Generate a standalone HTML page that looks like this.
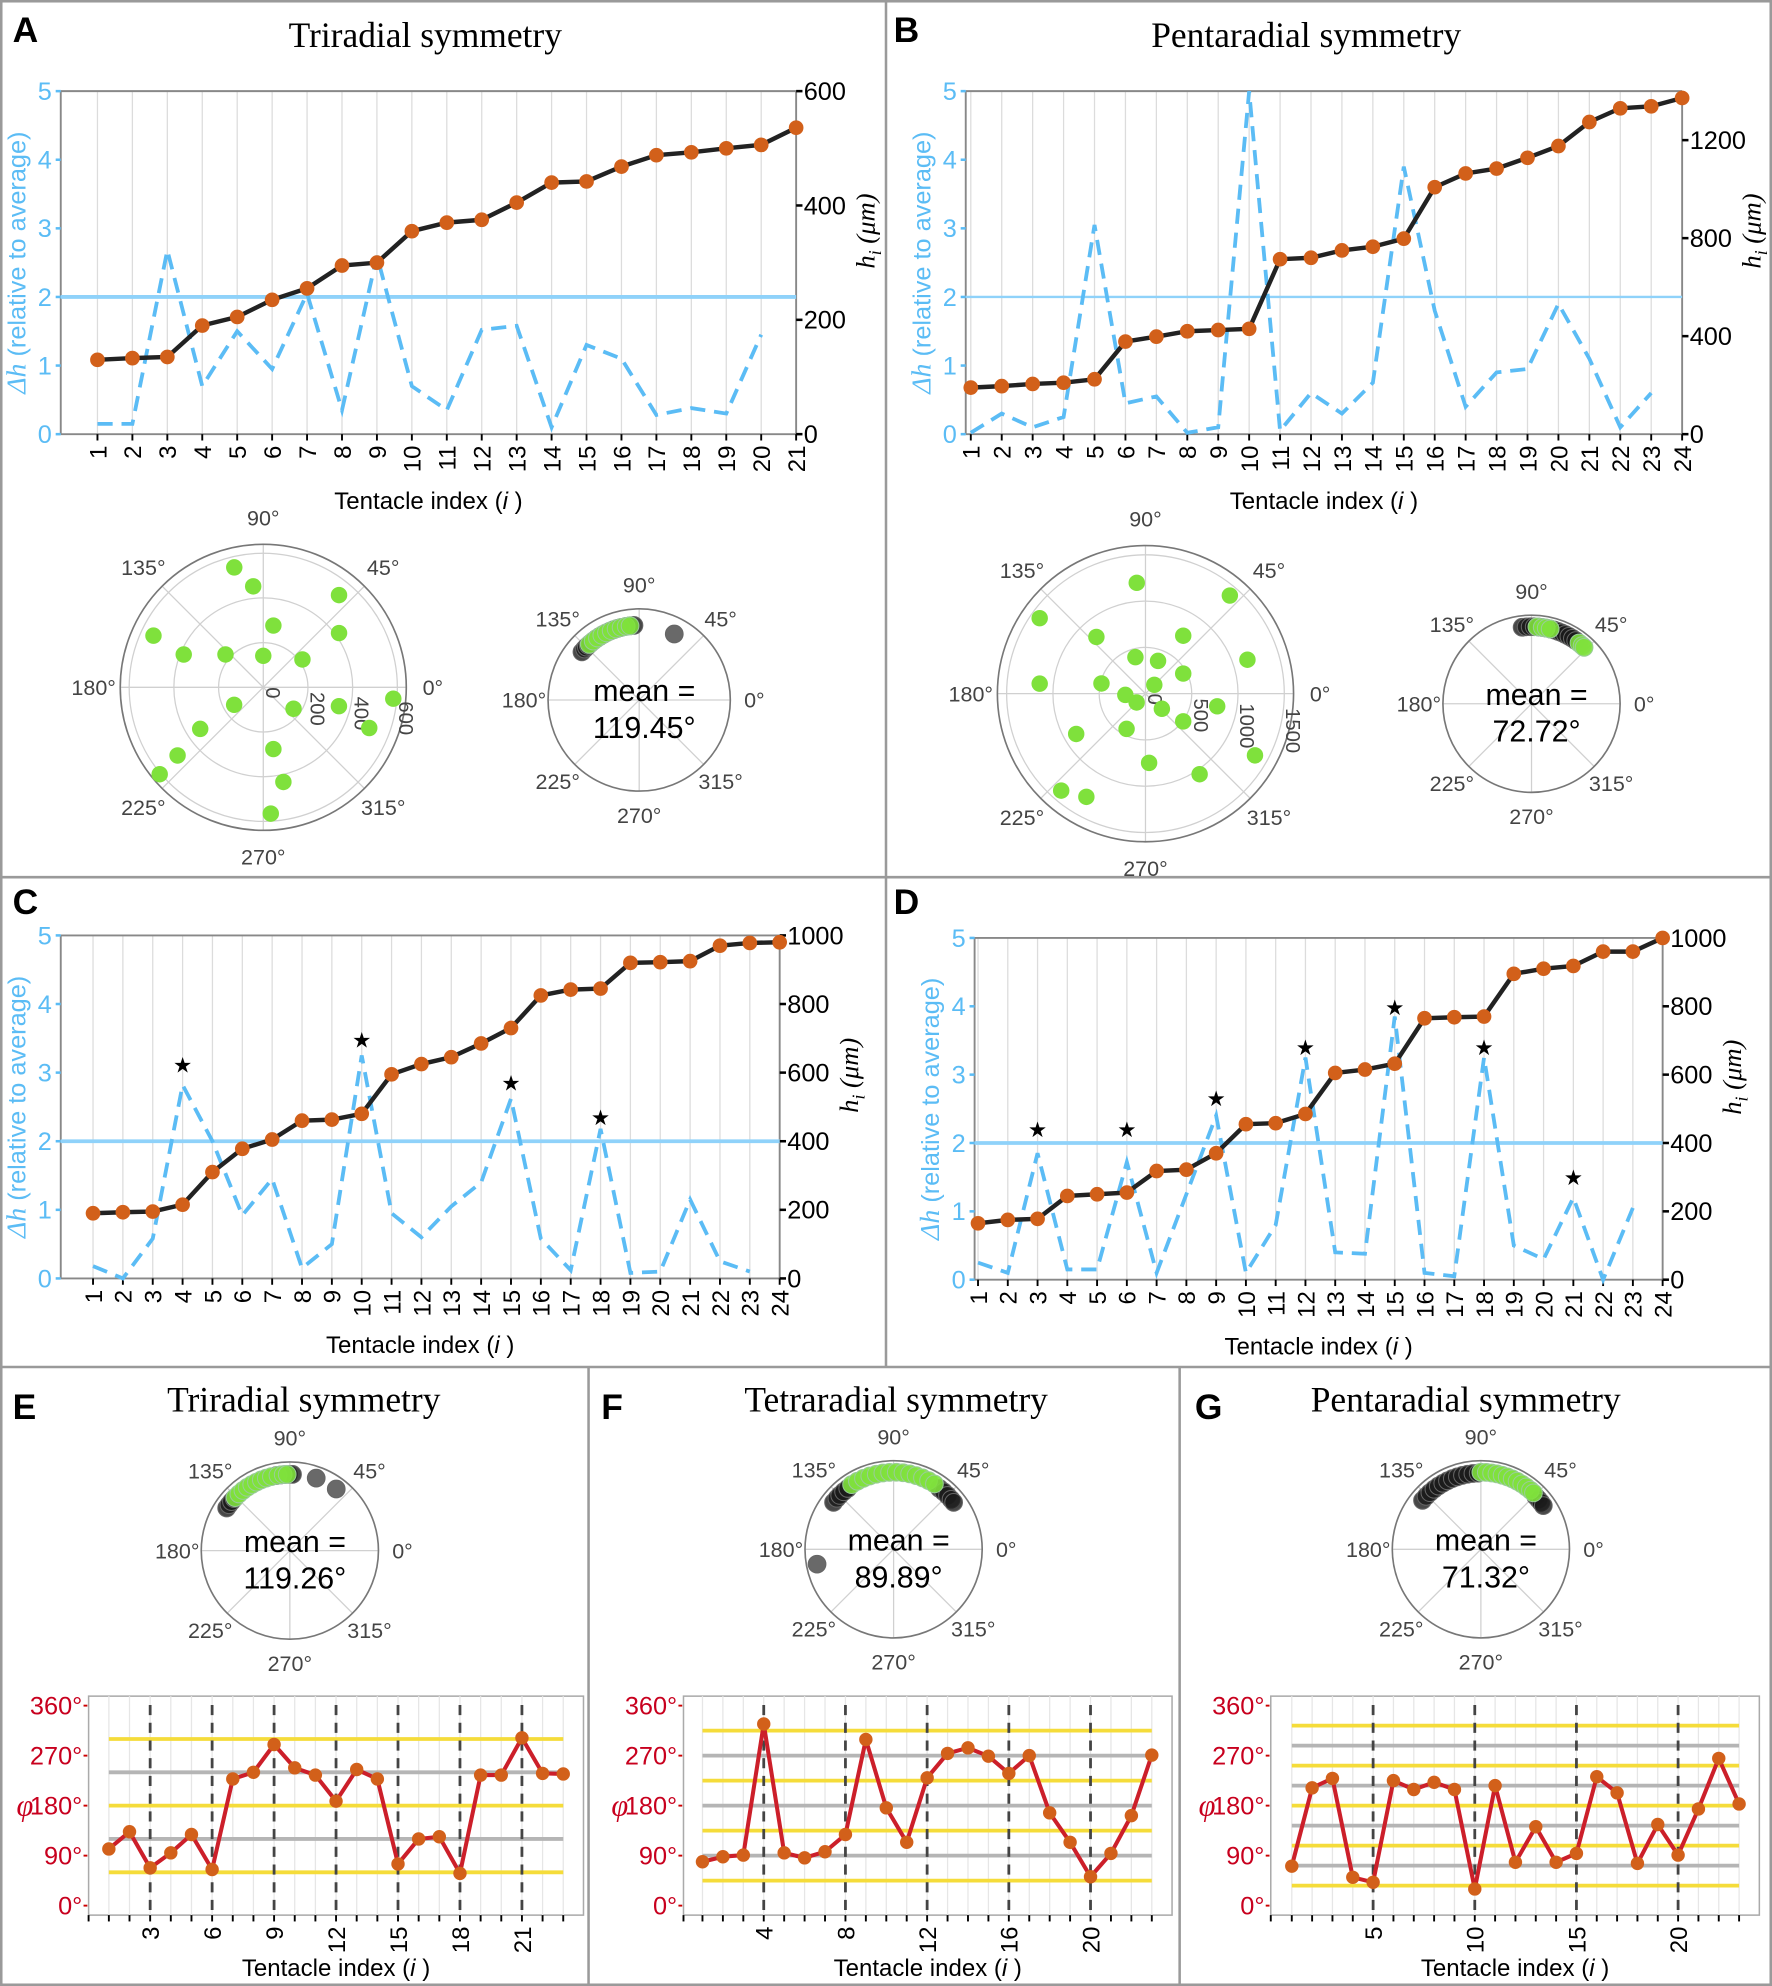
<!DOCTYPE html>
<html><head><meta charset="utf-8"><style>
html,body{margin:0;padding:0;background:#fff}
svg{display:block}
</style></head><body>
<svg id="fig" width="1772" height="1986" viewBox="0 0 1400 1569" preserveAspectRatio="none" xmlns="http://www.w3.org/2000/svg" font-family="Liberation Sans, DejaVu Sans, sans-serif">
<rect x="0" y="0" width="1400" height="1569" fill="#fff"/>
<g stroke="#9a9a9a" stroke-width="2" fill="none">
<rect x="1" y="1" width="1398" height="1567"/>
<line x1="700" y1="0" x2="700" y2="1080"/>
<line x1="0" y1="693" x2="1400" y2="693"/>
<line x1="0" y1="1080" x2="1400" y2="1080"/>
<line x1="465" y1="1080" x2="465" y2="1569"/>
<line x1="932" y1="1080" x2="932" y2="1569"/>
</g>
<g id="layer"></g>
</svg>
<script>
// ---------- DATA ----------
const hA=[130,133,135,190,205,235,255,295,300,355,370,375,405,440,442,468,488,493,500,506,536];
const dA=[0.15,0.15,2.68,0.7,1.5,0.95,2.05,0.35,2.6,0.7,0.35,1.52,1.58,0.1,1.3,1.1,0.28,0.38,0.3,1.45];
const hB=[190,196,205,210,224,378,398,420,425,430,714,720,750,765,798,1008,1064,1084,1128,1176,1274,1330,1338,1372];
const dB=[0.02,0.3,0.1,0.25,3.05,0.45,0.55,0.02,0.1,5.0,0.05,0.6,0.3,0.75,3.9,1.8,0.4,0.9,0.95,1.9,1.1,0.1,0.6];
const hC=[190,193,195,215,310,378,405,460,463,480,595,625,645,685,730,825,842,845,920,922,925,970,978,980];
const dC=[0.18,0.0,0.58,2.82,2.0,0.92,1.45,0.15,0.5,3.25,0.95,0.6,1.05,1.4,2.62,0.58,0.12,2.18,0.08,0.1,1.15,0.25,0.1];
const starIdxC=[4,10,15,18];
const starValC=[3.11,3.48,2.85,2.35];
const hD=[165,175,178,245,250,255,318,322,370,455,458,485,605,615,632,765,768,770,895,910,918,960,960,1000];
const dD=[0.25,0.1,1.85,0.15,0.15,1.72,0.1,1.25,2.4,0.1,0.8,3.25,0.4,0.38,3.85,0.1,0.05,3.25,0.5,0.3,1.2,0.0,1.05];
const starIdxD=[3,6,9,12,15,18,21];
const starValD=[2.2,2.2,2.65,3.4,3.98,3.4,1.5];
const ticksRA=[0,200,400,600];
const ticksRB=[0,400,800,1200];
const ticksRCD=[0,200,400,600,800,1000];
const ticksL=[0,1,2,3,4,5];
const polAang=[103.6,95.7,50.6,154.8,35.6,157.6,80.7,139,90,35.4,211,324.7,346,355,339,213.4,218.5,220,279.3,282,273.4];
const polArad=[552,454,534,543,417,385,280,224,141,215,152,166,349,584,508,338,490,605,280,433,566];
const polBang=[94.5,49.3,144.5,130.9,56.9,18.4,105.4,69,28,174.6,167,45,183.6,225,317.3,350,323.7,241.8,210.2,273,303.9,330.6,229,240.2];
const polBrad=[1201,1398,1404,810,747,1161,409,379,462,1148,488,135,218,135,241,787,506,432,866,749,1049,1358,1388,1285];
const spA_black=[140,137,135,133,131,128,125,122,119,116,113,110,107,104,100,97,94];
const spA_dark=[62];
const spA_green=[132,128,124,120,116,112,108,104,100,97];
const spB_black=[97,94,91,88,85,82,79,76,73,70,67,64,61,58,55];
const spB_green=[86,82,79,76,52,49,47];
const spE_black=[146,143,140,137,100,97,94,91,88];
const spE_dark=[70,53];
const spE_green=[136,132,128,124,120,116,112,108,104,99,95,92];
const spF_black=[142,138,135,131,127,53,49,45,41,38];
const spF_dark=[191];
const spF_green=[123,118,113,108,103,98,93,88,83,78,73,68,63,58];
const spG_black=[140,136,132,128,124,120,116,112,108,104,100,96,92,44,41,38,35];
const spG_green=[90,86,82,78,74,70,66,62,58,54,50,47];
const phiE=[102,133,68,95,128,65,228,240,290,248,235,188,245,228,75,120,124,58,235,235,302,238,237];
const phiF=[79,88,91,327,95,86,97,128,299,176,114,230,274,284,269,238,270,167,114,52,94,162,271];
const phiG=[71,212,229,51,42,225,209,222,209,30,216,78,142,78,94,232,203,76,146,91,174,265,183];
const yellowE=[60,180,300], grayE=[120,240];
const yellowF=[45,135,225,315], grayF=[90,180,270];
const yellowG=[36,108,180,252,324], grayG=[72,144,216,288];
const phiTicks=[0,90,180,270,360];

// ---------- HELPERS ----------
const NS="http://www.w3.org/2000/svg";
const SERIF='"Liberation Serif", "DejaVu Serif", serif';
const layer=document.getElementById('layer');
function mk(tag,attrs,parent,txt){const e=document.createElementNS(NS,tag);for(const k in attrs)e.setAttribute(k,attrs[k]);if(txt!==undefined)e.textContent=txt;(parent||layer).appendChild(e);return e;}
function grp(parent){return mk('g',{},parent);}
function text(x,y,s,size,opt,parent){opt=opt||{};
 const t=mk('text',{x:x,y:y,'font-size':size,fill:opt.fill||'#000','text-anchor':opt.anchor||'start'},parent,s);
 if(opt.family)t.style.fontFamily=opt.family;
 if(opt.weight)t.setAttribute('font-weight',opt.weight);
 if(opt.italic)t.setAttribute('font-style','italic');
 if(opt.rot!==undefined)t.setAttribute('transform','rotate('+opt.rot+' '+x+' '+y+')');
 return t;}

// ---------- DUAL AXIS PANELS ----------
function dualPanel(cfg){
 const g=grp();
 
 
 const n=cfg.h.length;
 const X=i=>cfg.xFirst+(i-1)*(cfg.x1-cfg.xFirst)/(n-1);
 const YL=v=>cfg.y1-(v/5)*(cfg.y1-cfg.y0);
 const YR=v=>cfg.y1-(v/cfg.hMax)*(cfg.y1-cfg.y0);
 for(let i=1;i<=n;i++){const l=mk('line',{x1:X(i),x2:X(i),y1:cfg.y0,y2:cfg.y1,stroke:'#dcdcdc','stroke-width':1},g);
  }
 mk('line',{x1:cfg.x0,x2:cfg.x1,y1:cfg.y0,y2:cfg.y0,stroke:'#888','stroke-width':1.5},g);
 mk('line',{x1:cfg.x0,x2:cfg.x0,y1:cfg.y0,y2:cfg.y1,stroke:'#888','stroke-width':1.5},g);
 mk('line',{x1:cfg.x1,x2:cfg.x1,y1:cfg.y0,y2:cfg.y1,stroke:'#888','stroke-width':1.5},g);
 mk('line',{x1:cfg.x0,x2:cfg.x1,y1:cfg.y1,y2:cfg.y1,stroke:'#888','stroke-width':1.5},g);
 ticksL.forEach(v=>{mk('line',{x1:cfg.x0-4,x2:cfg.x0,y1:YL(v),y2:YL(v),stroke:'#5bbcf5','stroke-width':2},g);
  const t=text(cfg.x0-7,YL(v)+7,String(v),20,{anchor:'end',fill:'#5bbcf5'},g);
  });
 cfg.rTicks.forEach(v=>{mk('line',{x1:cfg.x1,x2:cfg.x1+5,y1:YR(v),y2:YR(v),stroke:'#000','stroke-width':2},g);
  const t=text(cfg.x1+6,YR(v)+7,String(v),20,{fill:'#000'},g);
  });
 for(let i=1;i<=n;i++){mk('line',{x1:X(i),x2:X(i),y1:cfg.y1,y2:cfg.y1+5,stroke:'#000','stroke-width':1.5},g);
  const t=text(X(i)+7,cfg.y1+9,String(i),19,{anchor:'end',rot:-90},g);
  }
 const th=mk('line',{x1:cfg.x0,x2:cfg.x1,y1:YL(2),y2:YL(2),stroke:'#8fd2fa','stroke-width':cfg.thW},g);
 
 const dp=mk('polyline',{points:cfg.d.map((v,k)=>X(k+1)+','+YL(v)).join(' '),fill:'none',stroke:'#5bbcf5','stroke-width':3,'stroke-dasharray':'12 7'},g);
 
 const hp=mk('polyline',{points:cfg.h.map((v,k)=>X(k+1)+','+YR(v)).join(' '),fill:'none',stroke:'#222','stroke-width':3.5},g);
 
 cfg.h.forEach((v,k)=>{const c=mk('circle',{cx:X(k+1),cy:YR(v),r:5.8,fill:'#d2601a'},g);
  });
 if(cfg.starIdx)cfg.starIdx.forEach((idx,k)=>{const t=text(X(idx),YL(cfg.starVal[k])+6,'★',17,{anchor:'middle'},g);
  });
 const lt=mk('text',{x:0,y:0,'font-size':20,fill:'#5bbcf5','text-anchor':'middle',transform:'translate('+(cfg.x0-28)+','+((cfg.y0+cfg.y1)/2)+') rotate(-90)'},g);
 
 const t1=mk('tspan',{'font-style':'italic','font-size':22},lt,'Δh');t1.style.fontFamily=SERIF;
 mk('tspan',{},lt,' (relative to average)');
 const rt=mk('text',{x:0,y:0,'font-size':21,fill:'#000','text-anchor':'middle','font-style':'italic',transform:'translate('+(cfg.x1+62)+','+((cfg.y0+cfg.y1)/2-25)+') rotate(-90)'},g);
 rt.style.fontFamily=SERIF;
 
 mk('tspan',{},rt,'h');mk('tspan',{'font-size':14,dy:5},rt,'i');mk('tspan',{dy:-5},rt,'  (μm)');
 const xt=text((cfg.x0+cfg.x1)/2,cfg.y1+59,'',19,{anchor:'middle'},g);
 
 mk('tspan',{},xt,'Tentacle index (');mk('tspan',{'font-style':'italic'},xt,'i');mk('tspan',{},xt,' )');
}
dualPanel({name:'chart-a',x0:48,x1:629,xFirst:77,y0:72,y1:343,h:hA,d:dA,hMax:600,rTicks:ticksRA,thW:3});
dualPanel({name:'chart-b',x0:763,x1:1329,xFirst:767,y0:72,y1:343,h:hB,d:dB,hMax:1400,rTicks:ticksRB,thW:1.8});
dualPanel({name:'chart-c',x0:48,x1:616,xFirst:73.5,y0:739,y1:1010,h:hC,d:dC,hMax:1000,rTicks:ticksRCD,thW:3,starIdx:starIdxC,starVal:starValC});
dualPanel({name:'chart-d',x0:770,x1:1313.6,xFirst:772.7,y0:741,y1:1011,h:hD,d:dD,hMax:1000,rTicks:ticksRCD,thW:3,starIdx:starIdxD,starVal:starValD});

// ---------- POLARS ----------
function polarFrame(cx,cy,R,name,labelOff,fs){
 const g=grp();
 
 
 for(let a=0;a<360;a+=45){const r=a*Math.PI/180;
  mk('line',{x1:cx,y1:cy,x2:cx+R*Math.cos(r),y2:cy-R*Math.sin(r),stroke:'#d0d0d0','stroke-width':1},g);
  const lx=cx+(R+labelOff)*Math.cos(r),ly=cy-(R+labelOff)*Math.sin(r)+fs*0.36;
  const t=text(lx,ly,a+'°',fs,{anchor:'middle',fill:'#444'},g);
  }
 mk('circle',{cx:cx,cy:cy,r:R,fill:'none',stroke:'#777','stroke-width':1.3},g);
 return g;}
function bigPolar(cx,cy,R,rMax,rings,angs,rads,name){
 const g=polarFrame(cx,cy,R,name,21,17);
 rings.forEach(v=>{const rr=v/rMax*R; if(rr>0)mk('circle',{cx:cx,cy:cy,r:rr,fill:'none',stroke:'#d0d0d0','stroke-width':1},g);
  const a=-6*Math.PI/180; const x=cx+rr*Math.cos(a)+2,y=cy-rr*Math.sin(a);
  const t=text(x,y,String(v),16,{fill:'#444',rot:90},g);});
 angs.forEach((a,k)=>{const r=a*Math.PI/180,rr=rads[k]/rMax*R;
  const c=mk('circle',{cx:cx+rr*Math.cos(r),cy:cy-rr*Math.sin(r),r:6.5,fill:'#7fe13c'},g);
  });}
function smallPolar(cx,cy,R,sets,mean,name){
 const g=polarFrame(cx,cy,R,name,19,17);
 sets.forEach(s=>s.ang.forEach(a=>{const r=a*Math.PI/180,rr=s.f*R;
  const c=mk('circle',{cx:cx+rr*Math.cos(r),cy:cy-rr*Math.sin(r),r:7,fill:s.col,'fill-opacity':s.op,stroke:s.st,'stroke-width':0.8},g);
  }));
 const t1=text(cx+4,cy+1,'mean =',24,{anchor:'middle'},g);
 const t2=text(cx+4,cy+30,mean,24,{anchor:'middle'},g);}

bigPolar(208,543,113,640,[0,200,400,600],polAang,polArad,'polar-a-heights');
bigPolar(905,548,117,1600,[0,500,1000,1500],polBang,polBrad,'polar-b-heights');
const BL={col:'#1a1a1a',op:0.8,st:'#666'}, GR={col:'#7fe13c',op:0.9,st:'#9c9'};
smallPolar(505,553,72,[{...BL,ang:spA_black,f:0.82},{...BL,col:'#444',ang:spA_dark,f:0.82},{...GR,ang:spA_green,f:0.82}],'119.45°','polar-a-mean');
smallPolar(1210,556,70,[{...BL,ang:spB_black,f:0.87},{...GR,ang:spB_green,f:0.87}],'72.72°','polar-b-mean');
smallPolar(229,1225,70,[{...BL,ang:spE_black,f:0.86},{...BL,col:'#444',ang:spE_dark,f:0.87},{...GR,ang:spE_green,f:0.86}],'119.26°','polar-e-mean');
smallPolar(706,1224,70,[{...BL,ang:spF_black,f:0.86},{...BL,col:'#444',ang:spF_dark,f:0.88},{...GR,ang:spF_green,f:0.87}],'89.89°','polar-f-mean');
smallPolar(1170,1224,70,[{...BL,ang:spG_black,f:0.86},{...GR,ang:spG_green,f:0.87}],'71.32°','polar-g-mean');

// ---------- PHASE PLOTS ----------
function phasePlot(cfg){
 const g=grp();
 
 
 const n=cfg.phi.length;
 const X=i=>cfg.xFirst+(i-1)*(cfg.xLast-cfg.xFirst)/(n-1);
 const Y=v=>1505.5-(v/360)*(1505.5-1347.5);
 mk('rect',{x:cfg.x0,y:1340,width:cfg.x1-cfg.x0,height:173,fill:'#fff',stroke:'#aaa','stroke-width':1.2},g);
 for(let i=1;i<=n;i++){mk('line',{x1:X(i),x2:X(i),y1:1340,y2:1513,stroke:'#e6e6e6','stroke-width':1},g);
  mk('line',{x1:X(i),x2:X(i),y1:1513,y2:1518,stroke:'#000','stroke-width':1.5},g);}
 mk('line',{x1:cfg.x0,x2:cfg.x0,y1:1513,y2:1518,stroke:'#000','stroke-width':1.5},g);
 cfg.yellow.forEach(v=>{const l=mk('line',{x1:X(1),x2:X(n),y1:Y(v),y2:Y(v),stroke:'#f5dc3a','stroke-width':3},g);});
 cfg.gray.forEach(v=>{const l=mk('line',{x1:X(1),x2:X(n),y1:Y(v),y2:Y(v),stroke:'#b5b5b5','stroke-width':3},g);});
 for(let i=cfg.step;i<=n;i+=cfg.step){const l=mk('line',{x1:X(i),x2:X(i),y1:1347,y2:1512,stroke:'#444','stroke-width':2.2,'stroke-dasharray':'8 6'},g);
  
  const t=text(X(i)+7,1522,String(i),19,{anchor:'end',rot:-90},g);}
 phiTicks.forEach(v=>{mk('line',{x1:cfg.x0-4,x2:cfg.x0-1,y1:Y(v),y2:Y(v),stroke:'#c00','stroke-width':1.5},g);
  const t=text(cfg.x0-5,Y(v)+7,v+'°',20,{anchor:'end',fill:'#c8001e'},g);});
 const ph=text(cfg.x0-57,Y(180)+8,'φ',24,{fill:'#c8001e',italic:true,family:SERIF},g);
 
 const pl=mk('polyline',{points:cfg.phi.map((v,k)=>X(k+1)+','+Y(v)).join(' '),fill:'none',stroke:'#cc1f2a','stroke-width':3.2,'stroke-linejoin':'round'},g);
 
 cfg.phi.forEach((v,k)=>{const c=mk('circle',{cx:X(k+1),cy:Y(v),r:5.3,fill:'#d2601a'},g);});
 const xt=text((cfg.x0+cfg.x1)/2,1561,'',19,{anchor:'middle'},g);
 
 mk('tspan',{},xt,'Tentacle index (');mk('tspan',{'font-style':'italic'},xt,'i');mk('tspan',{},xt,' )');
}
phasePlot({name:'phase-chart-e',x0:70,x1:461,xFirst:86,xLast:445,phi:phiE,yellow:yellowE,gray:grayE,step:3});
phasePlot({name:'phase-chart-f',x0:540,x1:926,xFirst:555,xLast:910,phi:phiF,yellow:yellowF,gray:grayF,step:4});
phasePlot({name:'phase-chart-g',x0:1004,x1:1390,xFirst:1020.6,xLast:1374,phi:phiG,yellow:yellowG,gray:grayG,step:5});

// ---------- TITLES & LETTERS ----------
[['A',10,33],['B',706,33],['C',10,722],['D',706,722],['E',10,1121],['F',475,1121],['G',944,1121]].forEach(p=>{
 const t=text(p[1],p[2],p[0],28,{weight:'bold'});
 
 });
[['Triradial symmetry',336,37,'title-a'],['Pentaradial symmetry',1032,37,'title-b'],['Triradial symmetry',240,1115,'title-e'],['Tetraradial symmetry',708,1115,'title-f'],['Pentaradial symmetry',1158,1115,'title-g']].forEach(p=>{
 const t=text(p[1],p[2],p[0],28,{anchor:'middle',family:SERIF});
 
 });
</script>
</body></html>
